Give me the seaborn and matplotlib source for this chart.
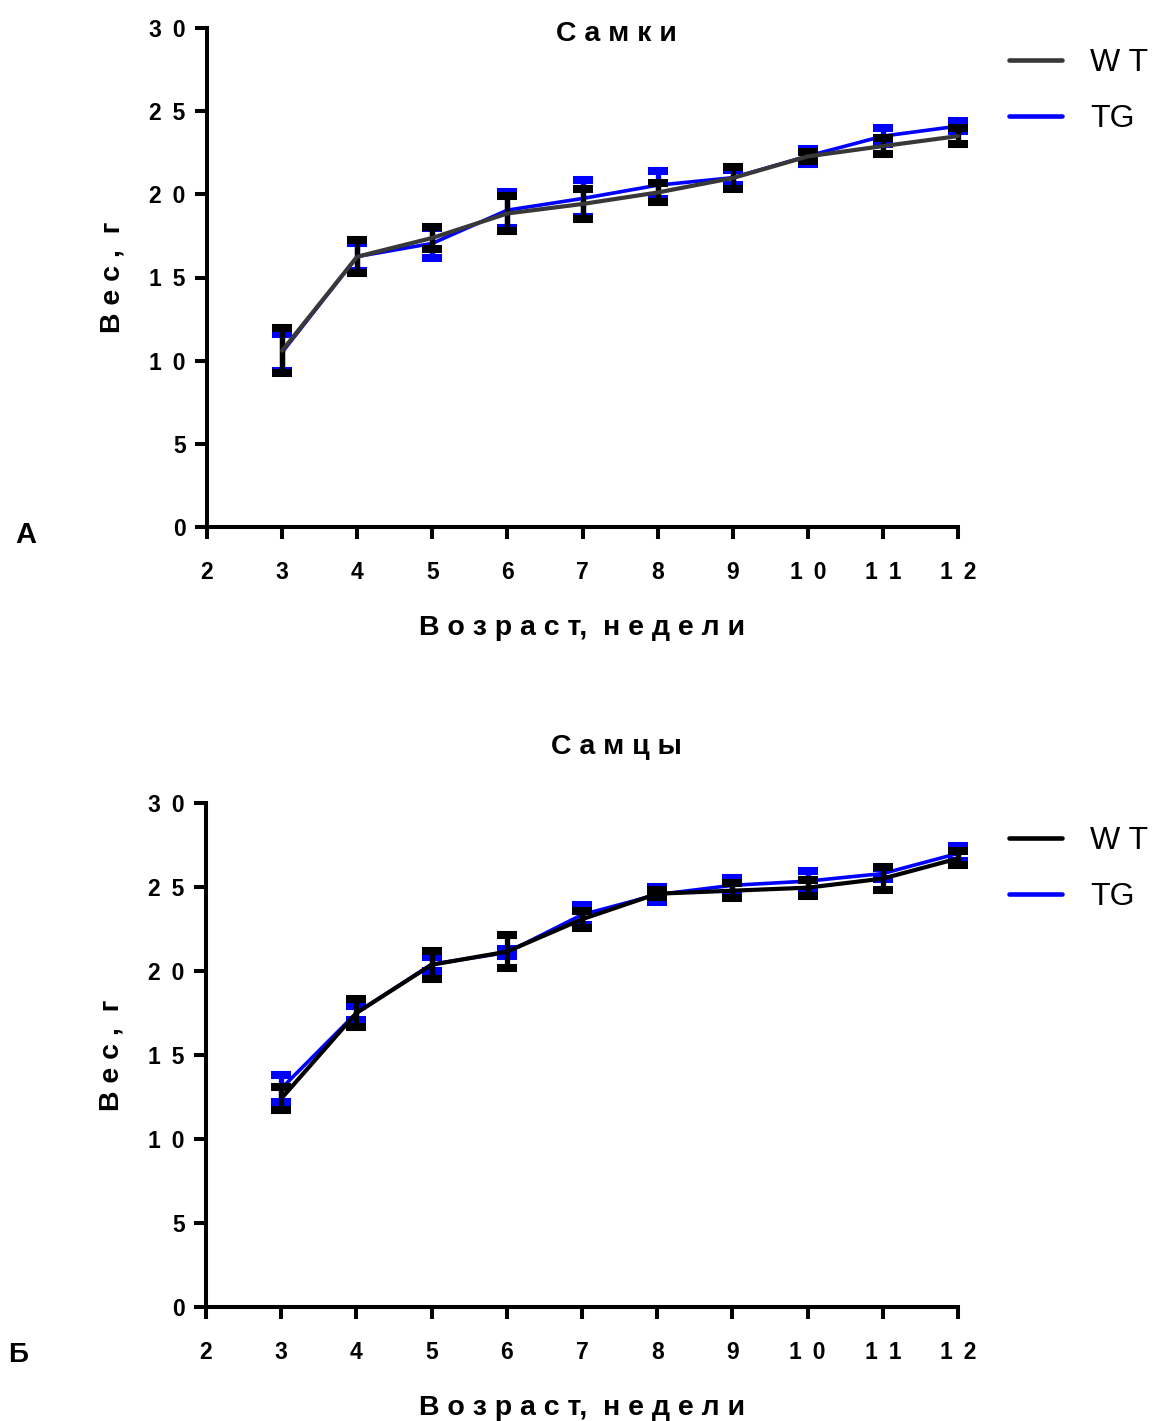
import matplotlib
matplotlib.use("Agg")
import matplotlib.pyplot as plt
from matplotlib.lines import Line2D
import pandas as pd
import seaborn as sns

# Body weight (g, mean ± SEM) by age in weeks
weeks = [3, 4, 5, 6, 7, 8, 9, 10, 11, 12]
group_names = ["W T", "TG"]

# Females
fem_wt_mean = [10.6, 16.25, 17.38, 18.85, 19.42, 20.11, 20.98, 22.28, 22.9, 23.5]
fem_wt_sem = [1.35, 1.0, 0.65, 1.05, 0.9, 0.57, 0.65, 0.27, 0.5, 0.47]
fem_tg_mean = [10.5, 16.26, 17.05, 19.05, 19.75, 20.55, 21.0, 22.3, 23.5, 24.1]
fem_tg_sem = [1.1, 0.84, 0.9, 1.1, 1.1, 0.84, 0.45, 0.45, 0.5, 0.3]

# Males
mal_wt_mean = [12.4, 17.5, 20.37, 21.15, 23.08, 24.6, 24.78, 24.96, 25.5, 26.7]
mal_wt_sem = [0.67, 0.85, 0.85, 0.97, 0.5, 0.2, 0.43, 0.48, 0.67, 0.42]
mal_tg_mean = [13.0, 17.5, 20.4, 21.1, 23.35, 24.55, 25.1, 25.35, 25.8, 27.0]
mal_tg_sem = [0.8, 0.4, 0.42, 0.2, 0.6, 0.45, 0.45, 0.58, 0.35, 0.43]

x_ticks = [2, 3, 4, 5, 6, 7, 8, 9, 10, 11, 12]
y_ticks = [0, 5, 10, 15, 20, 25, 30]

panel_titles = ["С а м к и", "С а м ц ы"]
panel_letters = ["А", "Б"]
x_label = "В о з р а с т,  н е д е л и"
y_label = "В е с ,  г"

sns.set_style("ticks")
plt.rcParams["font.family"] = ["Liberation Sans", "DejaVu Sans"]
plt.rcParams.update({
    "text.color": "black",
    "axes.labelcolor": "black",
    "axes.edgecolor": "black",
    "xtick.color": "black",
    "ytick.color": "black",
})

BLUE = "#0000ff"

fig = plt.figure(figsize=(11.55, 14.21), dpi=100)
W, H = 1155, 1421


def spaced(v):
    # widely tracked digits
    return " \u2009".join(str(v))


def draw_panel(ax, wt_mean, wt_sem, tg_mean, tg_sem, wt_line_color):
    df = pd.DataFrame({
        "week": weeks * 2,
        "weight": wt_mean + tg_mean,
        "group": [group_names[0]] * len(weeks) + [group_names[1]] * len(weeks),
    })
    # TG first, WT drawn over it
    ax.errorbar(weeks, tg_mean, yerr=tg_sem, fmt="none", ecolor=BLUE,
                elinewidth=3.8, capsize=7, capthick=5.8, zorder=2, clip_on=False)
    sns.lineplot(data=df[df["group"] == group_names[1]], x="week", y="weight",
                 color=BLUE, linewidth=2.6, ax=ax, zorder=3, clip_on=False)
    ax.errorbar(weeks, wt_mean, yerr=wt_sem, fmt="none", ecolor="black",
                elinewidth=3.8, capsize=7, capthick=5.8, zorder=4, clip_on=False)
    sns.lineplot(data=df[df["group"] == group_names[0]], x="week", y="weight",
                 color=wt_line_color, linewidth=3.0, ax=ax, zorder=5, clip_on=False)

    ax.set_xlim(2, 12)
    ax.set_ylim(0, 30)
    ax.set_xticks(x_ticks)
    ax.set_yticks(y_ticks)
    ax.set_xticklabels([spaced(t) for t in x_ticks], fontweight="bold")
    ax.set_yticklabels([spaced(t) for t in y_ticks], fontweight="bold")
    for s in ["top", "right"]:
        ax.spines[s].set_visible(False)
    for s in ["left", "bottom"]:
        ax.spines[s].set_linewidth(2.9)
    ax.tick_params(axis="both", width=2.9, length=8.5, direction="out",
                   labelsize=16.5)
    ax.tick_params(axis="x", pad=16)
    ax.tick_params(axis="y", pad=7)
    ax.set_xlabel(x_label, fontsize=20.5, fontweight="bold", labelpad=22)
    ax.set_ylabel(y_label, fontsize=20.5, fontweight="bold", labelpad=17)


def add_legend(top_px, wt_color):
    handles = [Line2D([], [], color=wt_color, lw=3.3),
               Line2D([], [], color=BLUE, lw=3.3)]
    fig.legend(handles, group_names, loc="upper left",
               bbox_to_anchor=(1009 / W, 1 - top_px / H),
               frameon=False, fontsize=23, handlelength=1.65,
               handletextpad=0.9, labelspacing=0.82,
               borderpad=0, borderaxespad=0)


left = 207 / W
width = (958 - 207) / W

ax1 = fig.add_axes([left, 1 - 527 / H, width, (527 - 28) / H])
draw_panel(ax1, fem_wt_mean, fem_wt_sem, fem_tg_mean, fem_tg_sem, "#383838")
add_legend(48, "#383838")

ax2 = fig.add_axes([206 / W, 1 - 1307 / H, (958 - 206) / W, (1307 - 803) / H])
draw_panel(ax2, mal_wt_mean, mal_wt_sem, mal_tg_mean, mal_tg_sem, "black")
add_legend(826, "black")

fig.text(616 / W, 1 - 41 / H, panel_titles[0], ha="center", va="baseline",
         fontsize=20.5, fontweight="bold")
fig.text(616 / W, 1 - 754 / H, panel_titles[1], ha="center", va="baseline",
         fontsize=20.5, fontweight="bold")
fig.text(15 / W, 1 - 543 / H, panel_letters[0], ha="left", va="baseline",
         fontsize=21, fontweight="bold")
fig.text(8 / W, 1 - 1362 / H, panel_letters[1], ha="left", va="baseline",
         fontsize=20, fontweight="bold")

fig.savefig("out.png", dpi=100)
